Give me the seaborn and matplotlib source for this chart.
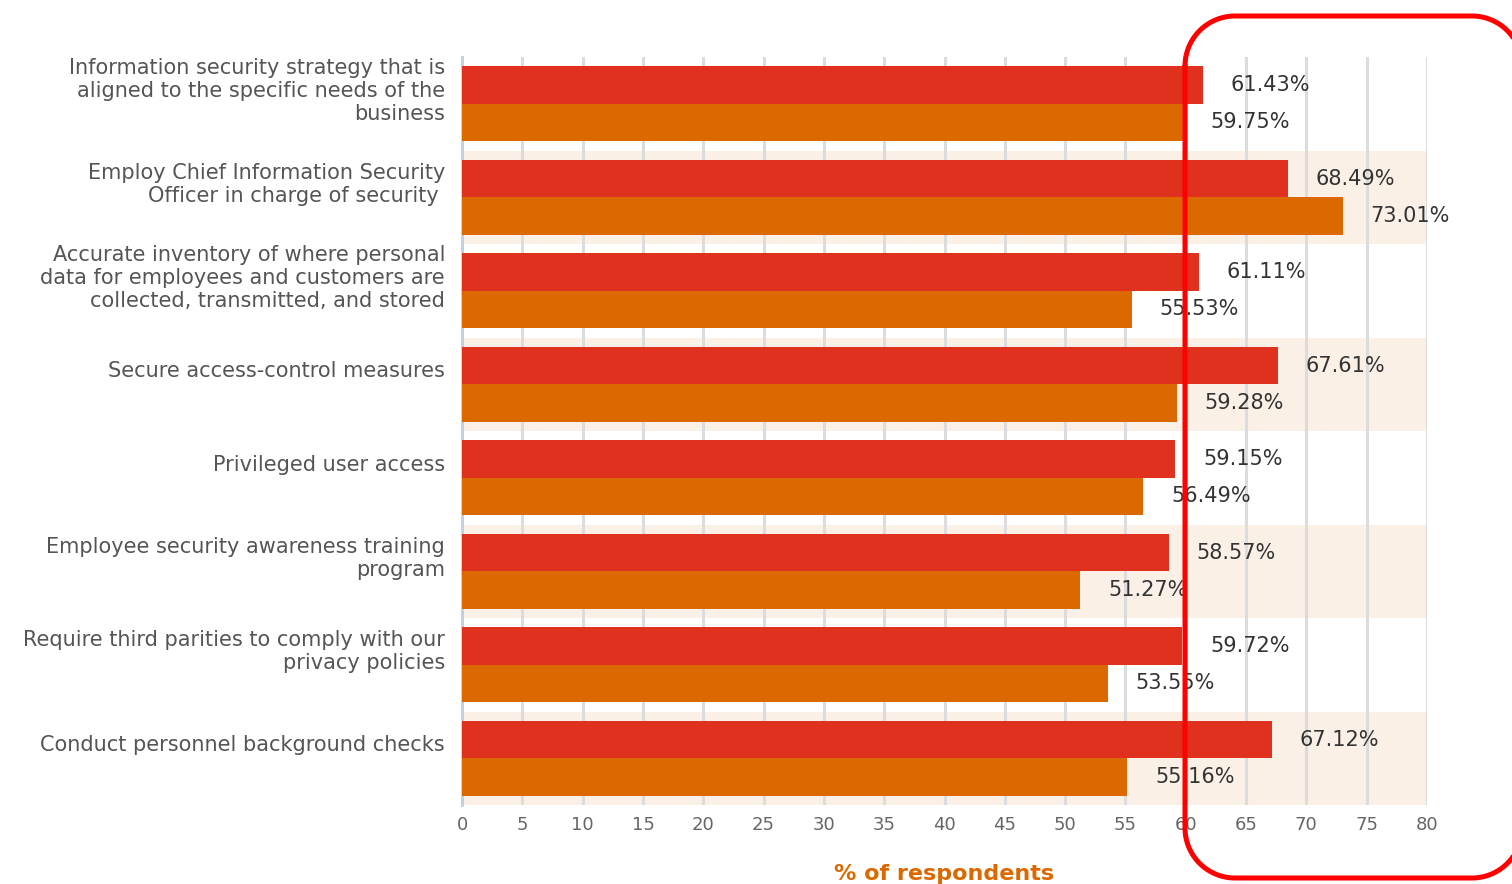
import matplotlib
matplotlib.use("Agg")
import matplotlib.pyplot as plt
import matplotlib.transforms as mtransforms
import numpy as np
import seaborn as sns
import pandas as pd

categories = [
    "Information security strategy that is\naligned to the specific needs of the\nbusiness",
    "Employ Chief Information Security\nOfficer in charge of security ",
    "Accurate inventory of where personal\ndata for employees and customers are\ncollected, transmitted, and stored",
    "Secure access-control measures",
    "Privileged user access",
    "Employee security awareness training\nprogram",
    "Require third parities to comply with our\nprivacy policies",
    "Conduct personnel background checks",
]
series_names = ["Series A", "Series B"]
series_a = [61.43, 68.49, 61.11, 67.61, 59.15, 58.57, 59.72, 67.12]
series_b = [59.75, 73.01, 55.53, 59.28, 56.49, 51.27, 53.55, 55.16]
x_ticks = list(range(0, 81, 5))
x_label = "% of respondents"

RED = "#E0301E"
ORANGE = "#DC6900"
BAND = "#FAF0E6"
GRID = "#DCDCDC"
SPINE = "#C0D0E0"

rows = []
for i, c in enumerate(categories):
    rows.append({"cat": c, "series": series_names[0], "value": series_a[i]})
    rows.append({"cat": c, "series": series_names[1], "value": series_b[i]})
df = pd.DataFrame(rows)

sns.set_style("white")
plt.rcParams["font.family"] = ["DejaVu Sans"]

W, H, DPI = 1512, 884, 100
fig = plt.figure(figsize=(W / DPI, H / DPI), dpi=DPI)
ax = fig.add_axes([462 / W, 1 - 805 / H, (1427 - 462) / W, (805 - 57) / H])

sns.barplot(data=df, y="cat", x="value", hue="series", order=categories,
            hue_order=series_names, palette=[RED, ORANGE], orient="h",
            saturation=1, width=0.8, ax=ax, legend=False, zorder=3, linewidth=0)

for i in range(1, len(categories), 2):
    ax.axhspan(i - 0.5, i + 0.5, color=BAND, zorder=0, lw=0)

ax.set_xlim(0, 80)
ax.set_ylim(len(categories) - 0.5, -0.5)
ax.set_xticks(x_ticks)
ax.set_xticklabels([str(t) for t in x_ticks], color="#666666", fontsize=13)
ax.xaxis.grid(True, color=GRID, lw=2.2, zorder=1)
ax.set_axisbelow(True)
ax.tick_params(axis="x", length=5, color=GRID, width=1.5, pad=3)

ax.set_yticks([i + 0.5 for i in range(len(categories))])
ax.set_yticklabels([])
ax.tick_params(axis="y", length=8, color=SPINE, width=1.5)
ax.set_ylabel("")
ax.set_xlabel("")

for s in ["top", "right", "bottom"]:
    ax.spines[s].set_visible(False)
ax.spines["left"].set_color(SPINE)
ax.spines["left"].set_linewidth(2)

# category labels
trans = ax.get_yaxis_transform() + mtransforms.ScaledTranslation(-17 / DPI, 13 / DPI, fig.dpi_scale_trans)
for i, c in enumerate(categories):
    ax.text(0, i, c, transform=trans, ha="right", va="center", multialignment="right",
            fontsize=15, color="#555555", linespacing=1.2)

for cont in ax.containers:
    vals = [b.get_width() for b in cont]
    ax.bar_label(cont, labels=[f"{v:.2f}%" for v in vals], padding=20,
                 fontsize=15, color="#333333", zorder=5)

fig.text(944.5 / W, 1 - 864 / H, x_label, ha="center", va="top", fontsize=16,
         fontweight="bold", color=ORANGE)

# overlay axes in pixel coordinates for the red highlight frame (rounded rectangle)
ov = fig.add_axes([0, 0, 1, 1], zorder=20)
ov.set_xlim(0, W)
ov.set_ylim(H, 0)
ov.axis("off")
ov.patch.set_alpha(0)
x0, x1, y0, y1, r = 1185, 1522, 16, 878, 50
t = np.linspace(0, np.pi / 2, 30)
px, py = [], []
# top-left corner
px += list(x0 + r - r * np.cos(t)); py += list(y0 + r - r * np.sin(t))
# top-right
px += list(x1 - r + r * np.sin(t)); py += list(y0 + r - r * np.cos(t))
# bottom-right
px += list(x1 - r + r * np.cos(t)); py += list(y1 - r + r * np.sin(t))
# bottom-left
px += list(x0 + r - r * np.sin(t)); py += list(y1 - r + r * np.cos(t))
px.append(px[0]); py.append(py[0])
ov.plot(px, py, color="#FF0000", lw=3.6, clip_on=False, solid_joinstyle="round")

fig.savefig("out.png", dpi=DPI)
